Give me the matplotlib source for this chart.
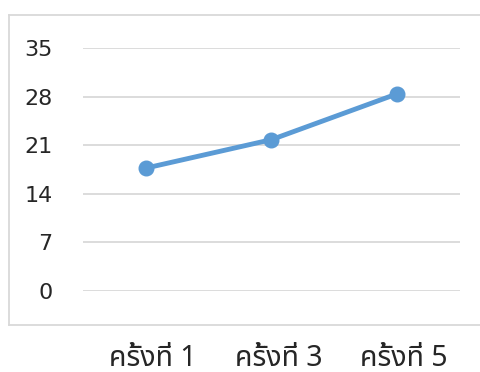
import matplotlib
matplotlib.use("Agg")
import matplotlib.pyplot as plt
import matplotlib.transforms as mtransforms
from matplotlib import font_manager
from matplotlib.ft2font import FT2Font
from matplotlib.lines import Line2D

categories = ["ครั้งที่ 1", "ครั้งที่ 3", "ครั้งที่ 5"]
values = [17.7, 21.8, 28.4]
y_ticks = [0, 7, 14, 21, 28, 35]


def find_thai_family():
    preferred = ["Noto Sans Thai", "Noto Sans Thai UI", "Loma", "Garuda", "Laksaman",
                 "Tahoma", "Leelawadee UI", "Sarabun", "Norasi", "Kinnari", "Waree"]
    found = []
    for f in font_manager.fontManager.ttflist:
        try:
            if 0x0E04 in FT2Font(f.fname).get_charmap():
                found.append(f.name)
        except Exception:
            pass
    for name in preferred:
        if name in found:
            return name
    return found[0] if found else None


thai = find_thai_family()
families = ([thai] if thai else []) + ["DejaVu Sans"]

W, H = 481, 372
fig = plt.figure(figsize=(W / 100, H / 100), dpi=100)
fig.patch.set_facecolor("white")

# chart frame: left, top and bottom edges (right edge runs off the canvas)
left, right, top, bottom = 8.5, 600, 14.5, 324.5
frame = dict(color="#d9d9d9", linewidth=1.3, transform=fig.transFigure)
fig.lines.extend([
    Line2D([left / W, left / W], [1 - top / H, 1 - bottom / H], **frame),
    Line2D([left / W, right / W], [1 - top / H, 1 - top / H], **frame),
    Line2D([left / W, right / W], [1 - bottom / H, 1 - bottom / H], **frame),
])

ax = fig.add_axes([83 / W, (H - 291) / H, (460 - 83) / W, (291 - 48) / H])
x = list(range(len(categories)))
ax.plot(x, values, color="#5b9bd5", linewidth=3.5, marker="o", markersize=10.5,
        solid_capstyle="round", zorder=3)

ax.set_xlim(-0.5, len(categories) - 0.5)
ax.set_ylim(0, 35)
ax.set_yticks(y_ticks)
ax.set_yticklabels([str(t) for t in y_ticks], fontsize=16, color="#262626",
                   family="DejaVu Sans")
ax.set_xticks(x)
ax.set_xticklabels([])

# category labels sit below the chart frame, nudged slightly right
label_tf = (mtransforms.blended_transform_factory(ax.transData, ax.transAxes)
            + mtransforms.ScaledTranslation(7 / 100, -53 / 100, fig.dpi_scale_trans))
for xi, cat in zip(x, categories):
    ax.text(xi, 0, cat, transform=label_tf, ha="center", va="top",
            fontsize=20.5, color="#262626", family=families, fontweight="light",
            clip_on=False)

ax.tick_params(axis="y", length=0, pad=22)
ax.tick_params(axis="x", length=0)
ax.grid(axis="y", color="#d9d9d9", linewidth=1.3)
ax.set_axisbelow(True)
for s in ax.spines.values():
    s.set_visible(False)
ax.set_facecolor("none")

fig.savefig("out.png", dpi=100, facecolor="white")
